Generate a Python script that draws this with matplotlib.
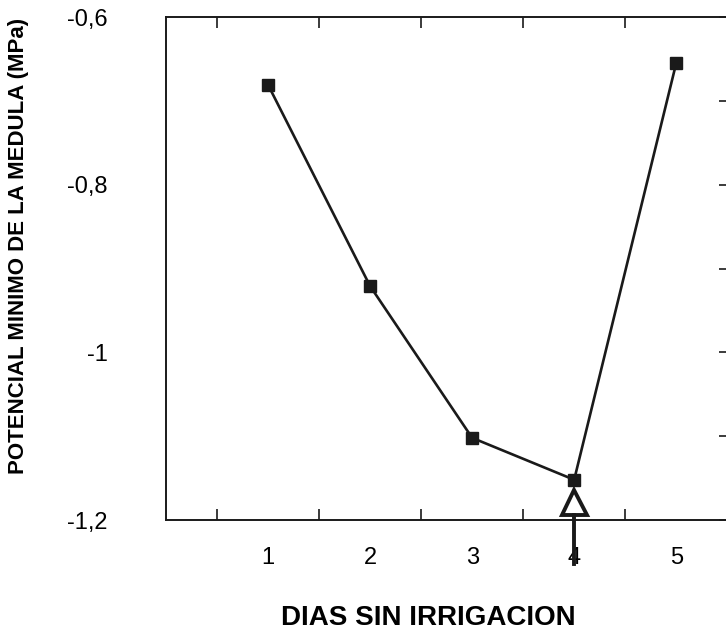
import matplotlib
matplotlib.use("Agg")
import matplotlib.pyplot as plt

# Minimum pith water potential by days without irrigation
dias = [1, 2, 3, 4, 5]
potencial = [-0.681, -0.921, -1.102, -1.152, -0.655]

# Irrigation restart marker
dia_riego = 4
potencial_riego = -1.178

y_ticks = [-1.2, -1.0, -0.8, -0.6]
y_labels = ["-1,2", "-1", "-0,8", "-0,6"]
x_ticks = [1, 2, 3, 4, 5]
x_labels = ["1", "2", "3", "4", "5"]

plt.rcParams["font.family"] = ["Liberation Sans", "DejaVu Sans"]

fig = plt.figure(figsize=(7.26, 6.32), dpi=100)
ax = fig.add_axes([0.2287, 0.1772, 0.7730, 0.7959])

ax.plot(dias, potencial, color="#1a1a1a", lw=1.9, marker="s", ms=9,
        mfc="#1a1a1a", mec="#1a1a1a", zorder=3)

ax.plot([dia_riego], [potencial_riego], marker="^", ms=18, mfc="white",
        mec="#1a1a1a", mew=2.8, ls="none", zorder=4, clip_on=False)
ax.plot([dia_riego, dia_riego], [potencial_riego - 0.016, -1.252],
        color="#1a1a1a", lw=2.8, clip_on=False, zorder=4)

ax.set_xlim(0, 5.5)
ax.set_ylim(-1.2, -0.6)

ax.set_xticks(x_ticks, x_labels)
ax.set_xticks([0.5, 1.5, 2.5, 3.5, 4.5], minor=True)
ax.set_yticks(y_ticks, y_labels)
ax.set_yticks([-1.1, -0.9, -0.7], minor=True)

ax.tick_params(axis="x", which="major", bottom=False, top=False,
               labelsize=17, pad=16)
ax.tick_params(axis="x", which="minor", bottom=True, top=True,
               direction="in", length=8, width=1.2, color="#1a1a1a")
ax.tick_params(axis="y", which="both", left=False, right=True,
               direction="in", length=6, width=1.2, color="#1a1a1a")
ax.tick_params(axis="y", which="major", labelsize=17, pad=42)

for s in ax.spines.values():
    s.set_linewidth(1.4)
    s.set_color("#1a1a1a")

ax.set_xlabel("DIAS SIN IRRIGACION", fontsize=20, fontweight="bold")
ax.xaxis.set_label_coords(0.467, -0.168)
ax.set_ylabel("POTENCIAL MINIMO DE LA MEDULA (MPa)", fontsize=16,
              fontweight="bold")
ax.yaxis.set_label_coords(-0.244, 0.545)

fig.savefig("out.png", dpi=100)
